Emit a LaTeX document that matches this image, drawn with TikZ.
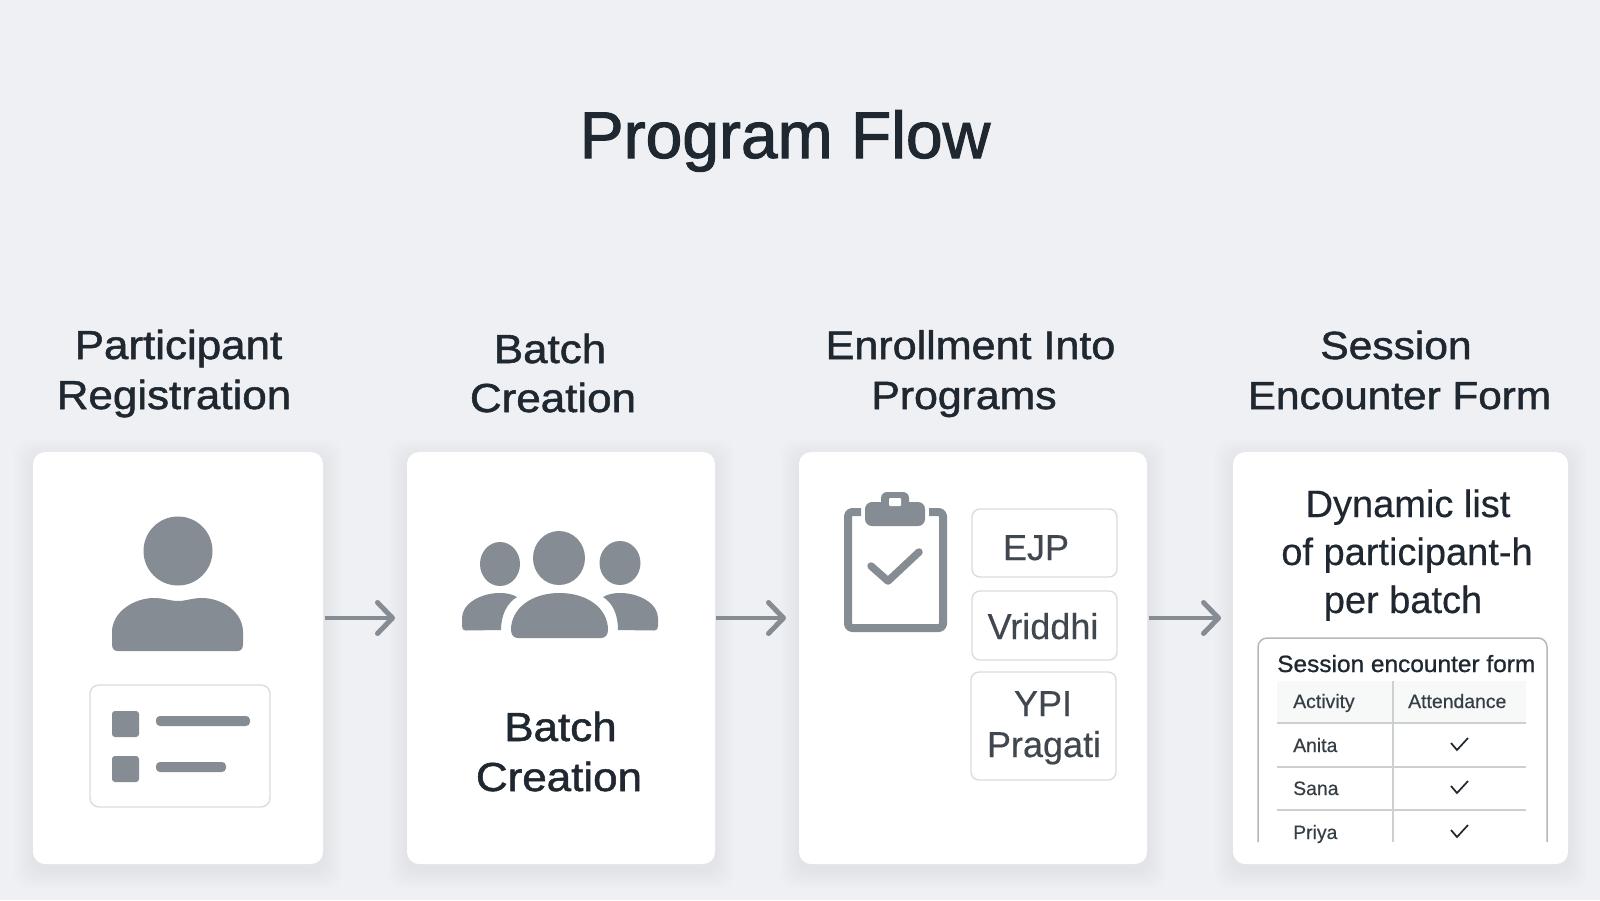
\documentclass[tikz,border=0pt]{standalone}
\usepackage{fontspec}
\setmainfont{Liberation Sans}
\newfontfamily\titlefont[FakeBold=1.6,FakeStretch=1.0]{Liberation Sans}
\newfontfamily\medfont[FakeBold=1.3,FakeStretch=1.085]{Liberation Sans}
\newfontfamily\formfont[FakeBold=0.9,FakeStretch=1.04]{Liberation Sans}
\newfontfamily\thinfont[FakeBold=0.4]{Liberation Sans}
\usetikzlibrary{arrows.meta}
\definecolor{bgc}{HTML}{EEF0F4}
\definecolor{ink}{HTML}{1F2730}
\definecolor{icon}{HTML}{868C93}
\definecolor{edge}{HTML}{DADDDF}
\definecolor{formedge}{HTML}{B4B8BC}
\definecolor{rowline}{HTML}{CDD0D3}
\definecolor{headfill}{HTML}{F7F8F8}
\tikzset{
  x=1pt,y=-1pt,
  card/.style={draw=none,fill=white,rounded corners=12pt,inner sep=0pt,outer sep=0pt},
  pill/.style={draw=edge,line width=1.4pt,fill=white,rounded corners=8pt},
  titletext/.style={anchor=base,inner sep=0pt,text=ink,font=\titlefont\fontsize{66}{66}\selectfont},
  headtext/.style={anchor=base,inner sep=0pt,text=ink,font=\medfont\fontsize{40.5}{40}\selectfont},
  headnarrow/.style={anchor=base,inner sep=0pt,text=ink,font=\medfont\fontsize{#1}{40}\selectfont},
  bodytext/.style={anchor=base,inner sep=0pt,text=ink,font=\thinfont\fontsize{38}{38}\selectfont},
  pilltext/.style={anchor=base,inner sep=0pt,text=ink!85,font=\thinfont\fontsize{36}{36}\selectfont},
  formtitle/.style={anchor=base west,inner sep=0pt,text=ink,font=\formfont\fontsize{23.5}{24}\selectfont},
  celltext/.style={anchor=base west,inner sep=0pt,text=ink!90,font=\thinfont\fontsize{19.4}{19}\selectfont},
  flow/.style={draw=icon,line width=4.5pt,-{Straight Barb[length=15pt,width=31pt,line width=5pt,round]}},
  iconfill/.style={fill=icon,draw=none},
  tick/.style={draw=ink,line width=1.7pt,line join=miter},
}
\newcommand{\softshadow}[4]{%
  \foreach \k in {1,...,12}{
    \fill[black,opacity=0.0035,rounded corners=14pt] (#1-\k*1.6,#2+6-\k*1.6) rectangle (#3+\k*1.6,#4+6+\k*1.6);
  }}
\newcommand{\tickmark}[3]{\draw[tick] (#1-8,#2-1) -- (#1-2,#2+6) -- (#1+9,#2-6);
  \coordinate (#3) at (#1,#2);}
\begin{document}
\begin{tikzpicture}
\useasboundingbox (0,0) rectangle (1600,900);
\fill[bgc] (0,0) rectangle (1600,900);

\node[titletext] (title) at (785,158) {Program Flow};

\node[headtext] (h1a) at (178.5,359) {Participant};
\node[headtext] (h1b) at (174,409) {Registration};
\node[headtext] (h2a) at (550,363) {Batch};
\node[headtext] (h2b) at (553,412) {Creation};
\node[headnarrow=39.7] (h3a) at (970.5,359) {Enrollment Into};
\node[headnarrow=39.4] (h3b) at (964,409) {Programs};
\node[headnarrow=39.2] (h4a) at (1396,359) {Session};
\node[headnarrow=39] (h4b) at (1399.5,409) {Encounter Form};

\softshadow{33}{452}{323}{864}
\softshadow{407}{452}{715}{864}
\softshadow{799}{452}{1147}{864}
\softshadow{1233}{452}{1568}{864}

\node[card,minimum width=290pt,minimum height=412pt] (card1) at (178,658) {};
\node[card,minimum width=308pt,minimum height=412pt] (card2) at (561,658) {};
\node[card,minimum width=348pt,minimum height=412pt] (card3) at (973,658) {};
\node[card,minimum width=335pt,minimum height=412pt] (card4) at (1400.5,658) {};

\coordinate (flowline) at (0,618);
\draw[flow,shorten <=2pt,shorten >=12pt] (card1.east |- flowline) -- (card2.west |- flowline);
\draw[flow,shorten <=1pt,shorten >=13pt] (card2.east |- flowline) -- (card3.west |- flowline);
\draw[flow,shorten <=2pt,shorten >=12pt] (card3.east |- flowline) -- (card4.west |- flowline);

% person icon
\fill[iconfill] (178,551) circle (34.5);
\fill[iconfill] (112,644) -- (112,632) .. controls (112,612) and (134,598) .. (154,598)
  .. controls (164,598) and (170,601) .. (178,601) .. controls (186,601) and (192,598) .. (202,598)
  .. controls (222,598) and (243,612) .. (243,632) -- (243,644)
  .. controls (243,649) and (241,651) .. (237,651) -- (118,651) .. controls (114,651) and (112,649) .. (112,644) -- cycle;
\draw[pill,rounded corners=9pt] (90,685) rectangle (270,807);
\fill[iconfill,rounded corners=3pt] (112,711) rectangle (139,737);
\fill[iconfill,rounded corners=3pt] (112,756) rectangle (139,782);
\fill[iconfill,rounded corners=4pt] (156,716) rectangle (250,726);
\fill[iconfill,rounded corners=4pt] (156,762) rectangle (226,772);

% group icon
\fill[iconfill] (559,558) ellipse (26 and 27);
\fill[iconfill] (500,564) ellipse (20 and 22);
\fill[iconfill] (620,563) ellipse (20.5 and 22);
\fill[iconfill] (511,630) .. controls (511,608) and (532,593) .. (559.5,593)
  .. controls (587,593) and (608,608) .. (608,630) .. controls (608,635) and (605,638) .. (601,638)
  -- (518,638) .. controls (514,638) and (511,635) .. (511,630) -- cycle;
\fill[iconfill] (462,626) -- (462,618) .. controls (462,604) and (480,593) .. (500,593)
  .. controls (506,593) and (512,594) .. (517,597) .. controls (507,603) and (501,615) .. (501,630)
  -- (466,630.5) .. controls (463,630.5) and (462,629) .. (462,626) -- cycle;
\fill[iconfill] (658,626) -- (658,618) .. controls (658,604) and (640,593) .. (620,593)
  .. controls (614,593) and (608,594) .. (603,597) .. controls (613,603) and (618,615) .. (618,630)
  -- (654,630.5) .. controls (657,630.5) and (658,629) .. (658,626) -- cycle;
\node[headtext] (c2a) at (560.5,741) {Batch};
\node[headtext] (c2b) at (559,791) {Creation};

% clipboard icon
\draw[icon,line width=8pt,line join=round,rounded corners=4pt] (861,512) -- (848,512) -- (848,628) -- (943,628) -- (943,512) -- (929,512);
\fill[iconfill,rounded corners=7pt] (865,526) rectangle (925,502);
\fill[iconfill,rounded corners=6pt] (881,515) rectangle (909,492);
\fill[white,rounded corners=1pt] (889,498) rectangle (901,506);
\draw[icon,line width=7.5pt,line cap=round,line join=round] (871,566) -- (888,581) -- (919,552);

% program pills
\draw[pill] (972,509) rectangle (1117,577);
\draw[pill] (972,591) rectangle (1117,660);
\draw[pill] (971,672) rectangle (1116,780);
\node[pilltext] (p1) at (1036,560) {EJP};
\node[pilltext] (p2) at (1043,639) {Vriddhi};
\node[pilltext] (p3a) at (1043,716) {YPI};
\node[pilltext] (p3b) at (1044,757) {Pragati};

% session card
\node[bodytext] (d1) at (1408,517) {Dynamic list};
\node[bodytext] (d2) at (1407,565) {of participant-h};
\node[bodytext] (d3) at (1403,613) {per batch};
\draw[formedge,line width=1.5pt,rounded corners=9pt] (1258,842) -- (1258,638) -- (1547,638) -- (1547,842);
\node[formtitle] (f0) at (1277,672) {Session encounter form};
\fill[headfill] (1277,681) rectangle (1526,723);
\draw[rowline,line width=1.2pt] (1277,723) -- (1526,723) (1277,767) -- (1526,767) (1277,810) -- (1526,810) (1393,681) -- (1393,842);
\node[celltext] (t1) at (1293,708) {Activity};
\node[celltext] (t2) at (1408,708) {Attendance};
\node[celltext] (t3) at (1293,752) {Anita};
\node[celltext] (t4) at (1293,795) {Sana};
\node[celltext] (t5) at (1293,839) {Priya};
\tickmark{1459}{744}{k1}
\tickmark{1459}{787}{k2}
\tickmark{1459}{831}{k3}
\end{tikzpicture}
\end{document}
